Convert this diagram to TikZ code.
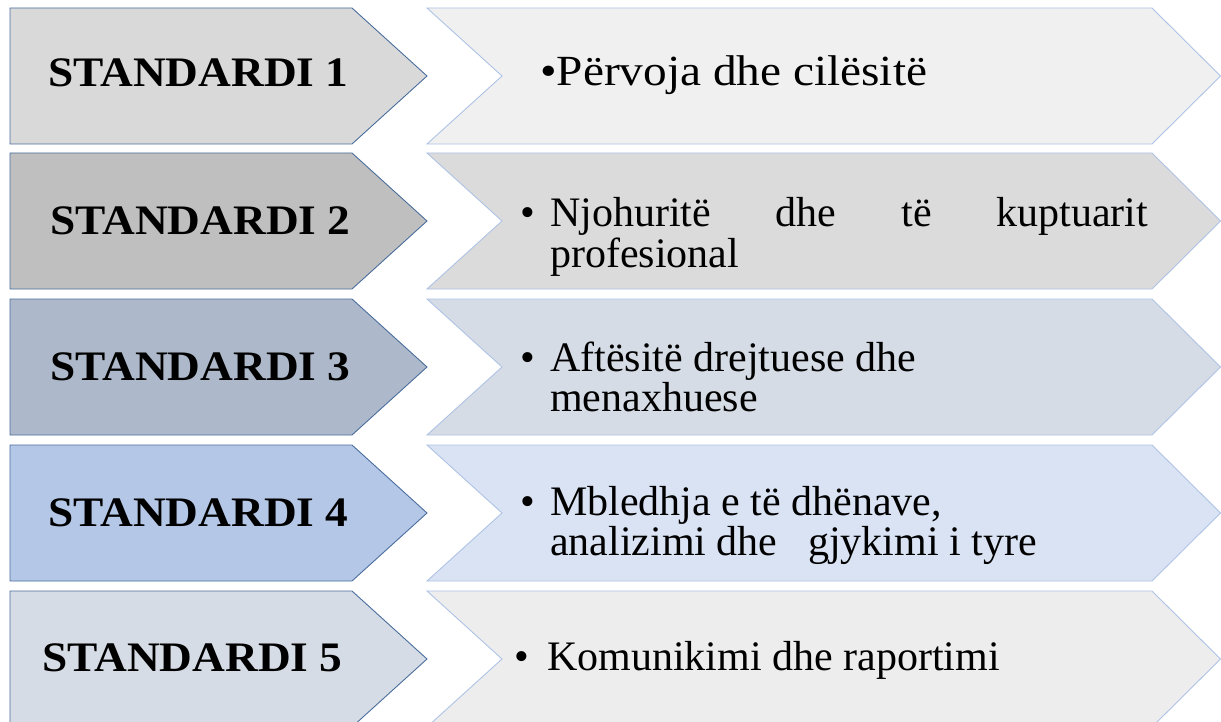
\documentclass[tikz,border=0pt]{standalone}
\usepackage{fontspec}
\setmainfont{Liberation Serif}
\newfontfamily\labfont[FakeStretch=1.08]{Liberation Serif}
\newfontfamily\widefont[FakeStretch=1.1]{Liberation Serif}
\definecolor{lborder}{HTML}{4A6E9E}
\definecolor{rborder}{HTML}{AFC3E6}
\definecolor{La}{HTML}{D9D9D9}
\definecolor{Lb}{HTML}{BFBFBF}
\definecolor{Lc}{HTML}{ADB9CA}
\definecolor{Ld}{HTML}{B4C7E7}
\definecolor{Le}{HTML}{D6DCE5}
\definecolor{Ra}{HTML}{F0F0F0}
\definecolor{Rb}{HTML}{DBDBDB}
\definecolor{Rc}{HTML}{D6DCE5}
\definecolor{Rd}{HTML}{DAE3F3}
\definecolor{Re}{HTML}{EDEDED}
\newcommand\chevrow[3]{%
  \draw[lshape, fill=#2] (10,#1) -- (352,#1) -- (427,{#1+68}) -- (352,{#1+136}) -- (10,{#1+136}) -- cycle;
  \draw[rshape, fill=#3] (427,#1) -- (1152,#1) -- (1220.5,{#1+68}) -- (1152,{#1+136}) -- (427,{#1+136}) -- (502,{#1+68}) -- cycle;
}
\begin{document}
\begin{tikzpicture}[x=1pt,y=-1pt,
  lshape/.style={draw=lborder, line width=0.9pt, line join=miter},
  rshape/.style={draw=rborder, line width=0.9pt, line join=miter},
  labtxt/.style={anchor=west, inner sep=0pt, font=\labfont\bfseries\fontsize{42}{42}\selectfont},
  bodytxt/.style={anchor=base west, inner sep=0pt, align=left, font=\fontsize{42}{40}\selectfont}]
\useasboundingbox (0,0) rectangle (1221,722);
\clip (0,0) rectangle (1221,722);
\fill[white] (0,0) rectangle (1221,722);
\chevrow{8}{La}{Ra}
\chevrow{153}{Lb}{Rb}
\chevrow{299}{Lc}{Rc}
\chevrow{445}{Ld}{Rd}
\chevrow{591}{Le}{Re}
% labels
\node[labtxt] (s1) at (48,73) {STANDARDI 1};
\node[labtxt] (s2) at (50,221) {STANDARDI 2};
\node[labtxt] (s3) at (50,367) {STANDARDI 3};
\node[labtxt] (s4) at (48,513) {STANDARDI 4};
\node[labtxt] (s5) at (42,658) {STANDARDI 5};
% texts
\node[bodytxt, font=\widefont\fontsize{43}{40}\selectfont] (t1) at (540,86) {•Përvoja dhe cilësitë};
\node[bodytxt] (t2) at (520,267) {\makebox[30pt][l]{•}\hbox to 598pt{Njohuritë\hfill dhe\hfill të\hfill kuptuarit}\\\hspace*{30pt}profesional};
\node[bodytxt] (t3) at (520,411) {\makebox[30pt][l]{•}Aftësitë drejtuese dhe\\\hspace*{30pt}menaxhuese};
\node[bodytxt] (t4) at (520,555) {\makebox[30pt][l]{•}Mbledhja e të dhënave,\\\hspace*{30pt}analizimi dhe\hspace{20pt} gjykimi i tyre};
\node[bodytxt] (t5) at (514,670) {\makebox[33pt][l]{•}Komunikimi dhe raportimi};
\end{tikzpicture}
\end{document}
